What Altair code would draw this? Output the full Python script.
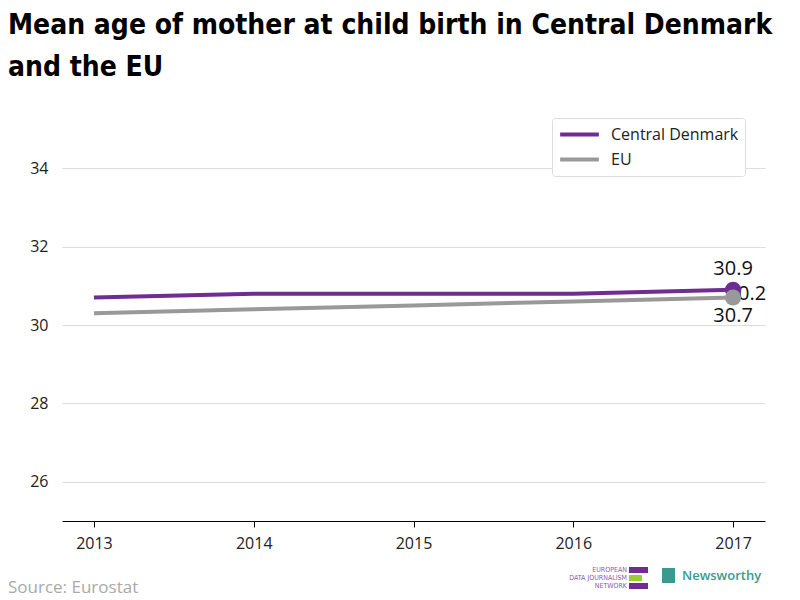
import altair as alt
import pandas as pd

years = [2013, 2014, 2015, 2016, 2017]
central_denmark = [30.7, 30.8, 30.8, 30.8, 30.9]
eu = [30.3, 30.4, 30.5, 30.6, 30.7]
series_names = ["Central Denmark", "EU"]
colors = ["#6f2c91", "#999999"]

rows = []
for y, v in zip(years, central_denmark):
    rows.append({"year": y, "value": v, "series": series_names[0]})
for y, v in zip(years, eu):
    rows.append({"year": y, "value": v, "series": series_names[1]})
df = pd.DataFrame(rows)

last = df[df["year"] == years[-1]].copy()
last["label"] = last["value"].map(lambda v: f"{v:.1f}")
diff_df = pd.DataFrame({
    "year": [years[-1]],
    "value": [(central_denmark[-1] + eu[-1]) / 2],
    "label": [f"{central_denmark[-1] - eu[-1]:.1f}"],
})

W, H = 703, 392

x_enc = alt.X("year:Q", scale=alt.Scale(domain=[2012.8, 2017.2], nice=False, zero=False),
              axis=alt.Axis(values=years, format="d", title=None, grid=False,
                            domainColor="#000000", tickColor="#000000", tickSize=6,
                            labelFontSize=16, labelColor="#222222", labelPadding=8,
                            labelFont="Open Sans"))
y_enc = alt.Y("value:Q", scale=alt.Scale(domain=[25, 35], nice=False, zero=False),
              axis=alt.Axis(values=[26, 28, 30, 32, 34], title=None, domain=False, ticks=False,
                            gridColor="#dddddd", labelFontSize=16, labelColor="#222222",
                            labelPadding=14, labelFont="Open Sans"))
color_enc = alt.Color("series:N", scale=alt.Scale(domain=series_names, range=colors),
                      legend=alt.Legend(title=None, orient="none", legendX=490, legendY=-11,
                                        symbolType="stroke", symbolStrokeWidth=4, symbolSize=1500,
                                        clipHeight=21,
                                        labelFontSize=16, labelFont="Open Sans", labelColor="#222222",
                                        strokeColor="#dddddd", padding=6, cornerRadius=3,
                                        fillColor="white", rowPadding=4, labelOffset=10))

lines = alt.Chart(df).mark_line(strokeWidth=4).encode(x=x_enc, y=y_enc, color=color_enc)

diff_text = alt.Chart(diff_df).mark_text(align="left", dx=5, fontSize=20, font="Open Sans",
                                         color="#111111").encode(
    x="year:Q", y="value:Q", text="label:N")

points = alt.Chart(last).mark_point(filled=True, size=260, opacity=1).encode(
    x="year:Q", y="value:Q", color=alt.Color("series:N", legend=None))

top_label = alt.Chart(last[last["series"] == series_names[0]]).mark_text(
    dy=-21, fontSize=20, font="Open Sans", color="#111111").encode(
    x="year:Q", y="value:Q", text="label:N")
bottom_label = alt.Chart(last[last["series"] == series_names[1]]).mark_text(
    dy=18, fontSize=20, font="Open Sans", color="#111111").encode(
    x="year:Q", y="value:Q", text="label:N")


def pix_text(txt, x, y, size, color, align="left", font="Open Sans", weight="normal"):
    return alt.Chart(pd.DataFrame({"t": [txt]})).mark_text(
        align=align, baseline="middle", fontSize=size, font=font, fontWeight=weight,
        color=color).encode(x=alt.value(x), y=alt.value(y), text="t:N")


def pix_rect(x, x2, y, y2, color):
    return alt.Chart(pd.DataFrame({"a": [1]})).mark_rect(color=color).encode(
        x=alt.value(x), x2=alt.value(x2), y=alt.value(y), y2=alt.value(y2))


source = pix_text("Source: Eurostat", -54, H + 67, 17, "#aaaaaa")

logo_parts = [
    pix_text("EUROPEAN", 565, H + 49, 7, "#8a5ab0", align="right", font="DejaVu Sans Condensed"),
    pix_text("DATA JOURNALISM", 565, H + 57, 7, "#8a5ab0", align="right", font="DejaVu Sans Condensed"),
    pix_text("NETWORK", 565, H + 65, 7, "#8a5ab0", align="right", font="DejaVu Sans Condensed"),
    pix_rect(567, 586, H + 46, H + 52, "#6f2c91"),
    pix_rect(567, 580, H + 54, H + 60, "#9acd32"),
    pix_rect(567, 586, H + 62, H + 68, "#6f2c91"),
    pix_rect(600, 613, H + 47, H + 62, "#3a9a8e"),
    pix_text("Newsworthy", 620, H + 55, 13, "#3a9a8e", weight=600),
]

chart = alt.layer(lines, diff_text, points, top_label, bottom_label, source,
                  *logo_parts).properties(
    width=W, height=H,
    title=alt.TitleParams(["Mean age of mother at child birth in Central Denmark", "and the EU"],
                          anchor="start", frame="group", dx=-54, offset=36, fontSize=28,
                          font="DejaVu Sans Condensed",
                          fontWeight="bold", color="#000000", lineHeight=42),
    autosize=alt.AutoSizeParams(type="none"),
    padding={"left": 54, "top": 121, "right": 27, "bottom": 79},
).configure(background="white").configure_view(strokeWidth=0)

chart.save("out.html", embed_options={"renderer": "svg", "actions": False})
